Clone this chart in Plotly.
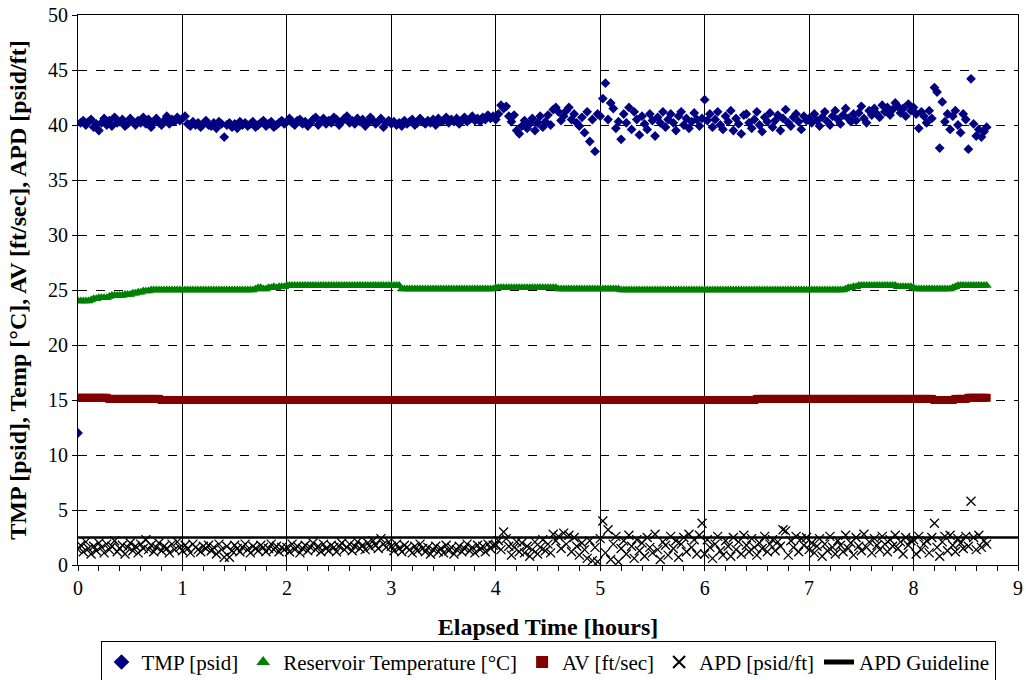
import plotly.graph_objects as go

# sampling grid (hours), 0.025 h spacing, 0 .. 8.7
hours = [round(i * 0.025, 3) for i in range(349)]

tmp_psid = [
    # 0-1 h
    12.0, 40.2, 40.4, 40.0, 40.3, 40.5, 39.8, 40.1, 39.5, 40.2, 40.6, 40.0, 40.4, 39.9, 40.7, 40.2, 40.3, 40.5, 39.9, 40.1,
    40.6, 40.3, 40.0, 40.4, 40.2, 40.7, 40.1, 40.5, 39.8, 40.3, 40.6, 40.2, 40.0, 40.4, 40.8, 40.1, 40.5, 40.3, 40.7, 40.4,
    # 1-2 h
    40.6, 40.8, 40.1, 39.9, 40.3, 40.0, 40.2, 39.8, 40.1, 40.4, 40.0, 39.9, 40.2, 39.7, 40.3, 40.1, 38.9, 40.0, 40.2, 39.8,
    40.1, 39.7, 40.3, 40.0, 40.2, 39.9, 40.1, 40.3, 39.8, 40.0, 40.2, 40.4, 39.9, 40.1, 40.3, 39.8, 40.0, 40.2, 40.4, 40.1,
    # 2-3 h
    40.3, 40.6, 40.2, 40.0, 40.4, 40.5, 40.1, 40.3, 39.9, 40.2, 40.5, 40.7, 40.0, 40.3, 40.6, 40.1, 40.4, 40.2, 40.7, 40.5,
    40.0, 40.3, 40.6, 40.8, 40.2, 40.4, 40.1, 40.6, 40.3, 40.5, 39.9, 40.2, 40.7, 40.4, 40.1, 40.3, 40.6, 39.8, 40.2, 40.4,
    # 3-4 h
    40.1, 40.3, 40.0, 40.2, 39.9, 40.4, 40.1, 40.3, 40.5, 40.0, 40.2, 40.6, 40.3, 40.1, 40.4, 40.2, 40.5, 40.0, 40.6, 40.3,
    40.4, 40.7, 40.2, 40.5, 40.3, 40.6, 40.1, 40.4, 40.7, 40.3, 40.5, 40.8, 40.4, 40.6, 40.3, 40.7, 40.5, 40.9, 40.6, 40.8,
    # 4-5 h
    40.5, 41.0, 41.8, 41.5, 41.7, 40.8, 40.3, 40.9, 39.5, 39.2, 39.9, 40.4, 39.7, 40.1, 40.6, 39.5, 40.2, 40.8, 39.8, 40.3,
    40.9, 40.0, 41.4, 41.6, 41.2, 40.4, 40.8, 41.3, 41.6, 40.5, 41.0, 40.2, 39.9, 40.7, 39.3, 41.2, 38.5, 40.5, 37.6, 41.0,
    # 5-6 h
    40.8, 42.4, 43.8, 40.5, 42.0, 41.5, 39.7, 40.3, 38.7, 41.0, 40.2, 41.6, 39.6, 41.2, 40.5, 39.1, 40.8, 40.1, 39.6, 41.0,
    40.4, 39.0, 40.7, 40.2, 41.2, 39.8, 40.5, 41.0, 40.2, 39.5, 40.8, 41.2, 40.0, 40.6, 39.7, 40.3, 41.1, 40.5, 39.9, 40.6,
    # 6-7 h
    42.3, 40.4, 41.0, 39.8, 40.5, 41.2, 40.0, 39.6, 40.8, 40.3, 41.3, 39.5, 40.6, 40.1, 39.2, 40.9, 41.0, 40.2, 39.7, 40.5,
    41.2, 40.0, 39.4, 40.7, 40.3, 41.1, 39.8, 40.4, 40.9, 39.5, 40.6, 41.4, 40.2, 39.9, 40.7, 41.0, 40.3, 39.6, 40.8, 40.4,
    # 7-8 h
    40.6, 40.2, 41.0, 40.4, 39.9, 40.7, 41.2, 40.3, 40.0, 40.8, 41.3, 40.5, 40.1, 40.9, 41.5, 40.6, 40.3, 41.0, 40.4, 41.1,
    41.7, 40.6, 40.2, 41.3, 40.9, 41.5, 41.0, 40.7, 41.8, 41.2, 41.6, 40.9, 41.4, 42.0, 41.7, 41.1, 41.5, 40.8, 41.9, 41.3,
    # 8-8.7 h
    41.6, 41.0, 39.7, 41.2, 40.8, 40.2, 41.3, 40.6, 43.4, 43.0, 37.9, 42.1, 40.3, 41.0, 39.6, 40.8, 41.3, 40.0, 39.3, 41.0,
    40.5, 37.8, 44.2, 40.1, 39.0, 39.6, 38.9, 39.4, 39.8,
]

reservoir_temp = [
    # 0-1 h
    24.0, 24.0, 24.0, 24.0, 24.0, 24.1, 24.2, 24.2, 24.3, 24.3, 24.3, 24.3, 24.4, 24.5, 24.5, 24.5, 24.5, 24.5, 24.6, 24.6,
    24.6, 24.7, 24.7, 24.8, 24.8, 24.9, 24.9, 24.9, 25.0, 25.0, 25.0, 25.0, 25.0, 25.0, 25.0, 25.0, 25.0, 25.0, 25.0, 25.0,
    # 1-2 h
    25.0, 25.0, 25.0, 25.0, 25.0, 25.0, 25.0, 25.0, 25.0, 25.0, 25.0, 25.0, 25.0, 25.0, 25.0, 25.0, 25.0, 25.0, 25.0, 25.0,
    25.0, 25.0, 25.0, 25.0, 25.0, 25.0, 25.0, 25.0, 25.1, 25.2, 25.2, 25.1, 25.1, 25.2, 25.2, 25.3, 25.2, 25.3, 25.3, 25.3,
    # 2-3 h
    25.4, 25.4, 25.4, 25.4, 25.4, 25.4, 25.4, 25.4, 25.4, 25.4, 25.4, 25.4, 25.4, 25.4, 25.4, 25.4, 25.4, 25.4, 25.4, 25.4,
    25.4, 25.4, 25.4, 25.4, 25.4, 25.4, 25.4, 25.4, 25.4, 25.4, 25.4, 25.4, 25.4, 25.4, 25.4, 25.4, 25.4, 25.4, 25.4, 25.4,
    # 3-4 h
    25.4, 25.4, 25.4, 25.4, 25.1, 25.1, 25.1, 25.1, 25.1, 25.1, 25.1, 25.1, 25.1, 25.1, 25.1, 25.1, 25.1, 25.1, 25.1, 25.1,
    25.1, 25.1, 25.1, 25.1, 25.1, 25.1, 25.1, 25.1, 25.1, 25.1, 25.1, 25.1, 25.1, 25.1, 25.1, 25.1, 25.1, 25.1, 25.1, 25.1,
    # 4-5 h
    25.2, 25.2, 25.2, 25.2, 25.2, 25.2, 25.2, 25.2, 25.2, 25.2, 25.2, 25.2, 25.2, 25.2, 25.2, 25.2, 25.2, 25.2, 25.2, 25.2,
    25.2, 25.2, 25.2, 25.2, 25.1, 25.1, 25.1, 25.1, 25.1, 25.1, 25.1, 25.1, 25.1, 25.1, 25.1, 25.1, 25.1, 25.1, 25.1, 25.1,
    # 5-6 h
    25.1, 25.1, 25.1, 25.1, 25.1, 25.1, 25.1, 25.1, 25.0, 25.0, 25.0, 25.0, 25.0, 25.0, 25.0, 25.0, 25.0, 25.0, 25.0, 25.0,
    25.0, 25.0, 25.0, 25.0, 25.0, 25.0, 25.0, 25.0, 25.0, 25.0, 25.0, 25.0, 25.0, 25.0, 25.0, 25.0, 25.0, 25.0, 25.0, 25.0,
    # 6-7 h
    25.0, 25.0, 25.0, 25.0, 25.0, 25.0, 25.0, 25.0, 25.0, 25.0, 25.0, 25.0, 25.0, 25.0, 25.0, 25.0, 25.0, 25.0, 25.0, 25.0,
    25.0, 25.0, 25.0, 25.0, 25.0, 25.0, 25.0, 25.0, 25.0, 25.0, 25.0, 25.0, 25.0, 25.0, 25.0, 25.0, 25.0, 25.0, 25.0, 25.0,
    # 7-8 h
    25.0, 25.0, 25.0, 25.0, 25.0, 25.0, 25.0, 25.0, 25.0, 25.0, 25.0, 25.0, 25.0, 25.0, 25.1, 25.2, 25.2, 25.3, 25.3, 25.4,
    25.4, 25.4, 25.4, 25.4, 25.4, 25.4, 25.4, 25.4, 25.4, 25.4, 25.4, 25.4, 25.4, 25.4, 25.3, 25.3, 25.3, 25.3, 25.3, 25.3,
    # 8-8.7 h
    25.2, 25.1, 25.1, 25.1, 25.1, 25.1, 25.1, 25.1, 25.1, 25.1, 25.1, 25.1, 25.1, 25.1, 25.1, 25.2, 25.3, 25.4, 25.4, 25.4,
    25.4, 25.4, 25.4, 25.4, 25.4, 25.4, 25.4, 25.4, 25.4,
]

av_ftsec = [
    # 0-1 h
    15.2, 15.2, 15.2, 15.2, 15.2, 15.2, 15.2, 15.2, 15.2, 15.2, 15.2, 15.2, 15.1, 15.1, 15.1, 15.1, 15.1, 15.1, 15.1, 15.1,
    15.1, 15.1, 15.1, 15.1, 15.1, 15.1, 15.1, 15.1, 15.1, 15.1, 15.1, 15.1, 15.0, 15.0, 15.0, 15.0, 15.0, 15.0, 15.0, 15.0,
    # 1-2 h
    15.0, 15.0, 15.0, 15.0, 15.0, 15.0, 15.0, 15.0, 15.0, 15.0, 15.0, 15.0, 15.0, 15.0, 15.0, 15.0, 15.0, 15.0, 15.0, 15.0,
    15.0, 15.0, 15.0, 15.0, 15.0, 15.0, 15.0, 15.0, 15.0, 15.0, 15.0, 15.0, 15.0, 15.0, 15.0, 15.0, 15.0, 15.0, 15.0, 15.0,
    # 2-3 h
    15.0, 15.0, 15.0, 15.0, 15.0, 15.0, 15.0, 15.0, 15.0, 15.0, 15.0, 15.0, 15.0, 15.0, 15.0, 15.0, 15.0, 15.0, 15.0, 15.0,
    15.0, 15.0, 15.0, 15.0, 15.0, 15.0, 15.0, 15.0, 15.0, 15.0, 15.0, 15.0, 15.0, 15.0, 15.0, 15.0, 15.0, 15.0, 15.0, 15.0,
    # 3-4 h
    15.0, 15.0, 15.0, 15.0, 15.0, 15.0, 15.0, 15.0, 15.0, 15.0, 15.0, 15.0, 15.0, 15.0, 15.0, 15.0, 15.0, 15.0, 15.0, 15.0,
    15.0, 15.0, 15.0, 15.0, 15.0, 15.0, 15.0, 15.0, 15.0, 15.0, 15.0, 15.0, 15.0, 15.0, 15.0, 15.0, 15.0, 15.0, 15.0, 15.0,
    # 4-5 h
    15.0, 15.0, 15.0, 15.0, 15.0, 15.0, 15.0, 15.0, 15.0, 15.0, 15.0, 15.0, 15.0, 15.0, 15.0, 15.0, 15.0, 15.0, 15.0, 15.0,
    15.0, 15.0, 15.0, 15.0, 15.0, 15.0, 15.0, 15.0, 15.0, 15.0, 15.0, 15.0, 15.0, 15.0, 15.0, 15.0, 15.0, 15.0, 15.0, 15.0,
    # 5-6 h
    15.0, 15.0, 15.0, 15.0, 15.0, 15.0, 15.0, 15.0, 15.0, 15.0, 15.0, 15.0, 15.0, 15.0, 15.0, 15.0, 15.0, 15.0, 15.0, 15.0,
    15.0, 15.0, 15.0, 15.0, 15.0, 15.0, 15.0, 15.0, 15.0, 15.0, 15.0, 15.0, 15.0, 15.0, 15.0, 15.0, 15.0, 15.0, 15.0, 15.0,
    # 6-7 h
    15.0, 15.0, 15.0, 15.0, 15.0, 15.0, 15.0, 15.0, 15.0, 15.0, 15.0, 15.0, 15.0, 15.0, 15.0, 15.0, 15.0, 15.0, 15.0, 15.0,
    15.1, 15.1, 15.1, 15.1, 15.1, 15.1, 15.1, 15.1, 15.1, 15.1, 15.1, 15.1, 15.1, 15.1, 15.1, 15.1, 15.1, 15.1, 15.1, 15.1,
    # 7-8 h
    15.1, 15.1, 15.1, 15.1, 15.1, 15.1, 15.1, 15.1, 15.1, 15.1, 15.1, 15.1, 15.1, 15.1, 15.1, 15.1, 15.1, 15.1, 15.1, 15.1,
    15.1, 15.1, 15.1, 15.1, 15.1, 15.1, 15.1, 15.1, 15.1, 15.1, 15.1, 15.1, 15.1, 15.1, 15.1, 15.1, 15.1, 15.1, 15.1, 15.1,
    # 8-8.7 h
    15.1, 15.1, 15.1, 15.1, 15.1, 15.1, 15.1, 15.1, 15.0, 15.0, 15.0, 15.0, 15.0, 15.0, 15.0, 15.0, 15.1, 15.1, 15.1, 15.1,
    15.1, 15.2, 15.2, 15.2, 15.2, 15.2, 15.2, 15.2, 15.2,
]

apd_psidft = [
    # 0-1 h
    1.4, 1.8, 1.2, 2.1, 1.5, 1.0, 1.7, 1.3, 2.0, 1.6, 1.1, 1.9, 1.4, 1.7, 2.2, 1.2, 1.5, 1.8, 1.0, 1.6,
    2.0, 1.3, 1.7, 1.1, 1.9, 1.5, 2.3, 1.4, 1.8, 1.2, 1.6, 2.0, 1.3, 1.7, 1.5, 1.1, 1.9, 1.4, 2.1, 1.6,
    # 1-2 h
    1.3, 1.8, 1.5, 1.1, 1.9, 1.6, 1.4, 1.2, 1.7, 1.5, 1.8, 1.3, 1.6, 1.0, 1.9, 1.4, 0.7, 1.7, 0.7, 1.3,
    1.8, 1.5, 1.2, 1.6, 1.9, 1.4, 1.1, 1.7, 1.5, 1.3, 1.8, 1.6, 1.2, 1.5, 1.9, 1.4, 1.7, 1.2, 1.6, 1.4,
    # 2-3 h
    1.6, 1.2, 1.9, 1.4, 1.7, 1.1, 1.5, 1.8, 1.3, 1.6, 2.0, 1.4, 1.7, 1.2, 1.9, 1.5, 1.3, 1.8, 1.6, 1.2,
    1.7, 2.0, 1.4, 1.6, 1.9, 1.3, 1.7, 2.1, 1.5, 1.8, 1.4, 2.0, 1.6, 2.2, 1.8, 1.5, 2.4, 1.9, 1.6, 2.1,
    # 3-4 h
    1.7, 1.3, 1.9, 1.5, 1.2, 1.8, 1.6, 1.4, 1.1, 1.7, 1.3, 1.9, 1.5, 1.2, 1.6, 1.0, 1.4, 1.7, 1.2, 1.5,
    1.1, 1.8, 1.3, 1.6, 1.0, 1.4, 1.7, 1.2, 1.5, 1.9, 1.3, 1.6, 1.1, 1.8, 1.4, 1.7, 1.2, 1.9, 1.5, 1.8,
    # 4-5 h
    1.8, 2.2, 1.4, 3.0, 2.4, 1.7, 0.9, 1.6, 2.1, 1.2, 2.0, 1.1, 1.7, 0.8, 1.4, 2.1, 1.0, 1.6, 2.3, 1.3,
    1.9, 1.1, 2.8, 2.2, 2.6, 1.5, 2.9, 1.9, 2.7, 1.2, 2.5, 1.7, 0.9, 2.0, 1.4, 0.6, 2.2, 0.4, 1.6, 0.3,
    # 5-6 h
    2.4, 4.0, 1.1, 3.2, 0.5, 1.9, 2.6, 0.3, 1.5, 2.2, 1.0, 2.7, 1.7, 0.6, 2.3, 1.3, 2.0, 0.8, 2.5, 1.6,
    1.1, 2.8, 1.4, 0.5, 2.1, 1.8, 0.9, 2.6, 1.5, 2.2, 0.7, 1.9, 2.5, 1.2, 2.8, 1.6, 2.3, 1.0, 2.7, 3.8,
    # 6-7 h
    1.0, 2.3, 1.6, 0.6, 1.9, 2.6, 1.3, 0.9, 2.2, 1.7, 0.8, 2.5, 1.4, 2.1, 1.0, 2.7, 1.8, 1.2, 2.4, 1.6,
    0.9, 2.0, 1.5, 2.6, 1.2, 1.9, 2.3, 1.3, 2.1, 1.7, 3.2, 3.1, 0.9, 2.2, 1.6, 2.6, 1.2, 2.4, 1.8, 2.5,
    # 7-8 h
    1.4, 2.0, 1.1, 1.7, 2.4, 0.8, 1.9, 1.3, 2.6, 1.6, 1.0, 2.2, 1.8, 1.2, 2.7, 1.5, 2.0, 0.9, 2.5, 1.7,
    1.3, 2.8, 1.6, 2.1, 1.1, 2.4, 1.8, 1.4, 2.6, 1.9, 1.2, 2.3, 1.7, 2.7, 1.5, 2.1, 1.0, 2.5, 1.8, 2.2,
    # 8-8.7 h
    2.3, 1.0, 2.6, 1.4, 1.9, 2.2, 1.1, 2.5, 3.8, 1.6, 0.8, 2.1, 2.6, 1.3, 2.7, 1.8, 1.2, 2.4, 2.0, 1.5,
    2.6, 1.7, 5.8, 2.5, 1.4, 2.7, 1.6, 2.2, 1.9,
]

guideline_x = [0, 9]
guideline_y = [2.5, 2.5]

FONT = "Liberation Serif"

fig = go.Figure()
fig.add_trace(go.Scatter(
    x=hours, y=tmp_psid, mode="markers", name="TMP [psid]",
    marker=dict(symbol="diamond", size=7.5, color="#000080", line=dict(width=0)),
))
fig.add_trace(go.Scatter(
    x=hours, y=reservoir_temp, mode="markers", name="Reservoir Temperature [°C]",
    marker=dict(symbol="triangle-up", size=9, color="#008000", line=dict(width=0)),
))
fig.add_trace(go.Scatter(
    x=hours, y=av_ftsec, mode="markers", name="AV [ft/sec]",
    marker=dict(symbol="square", size=8, color="#800000", line=dict(width=0)),
))
fig.add_trace(go.Scatter(
    x=hours, y=apd_psidft, mode="markers", name="APD [psid/ft]",
    marker=dict(symbol="x-thin", size=9, color="black", line=dict(width=1.3, color="black")),
))
fig.add_trace(go.Scatter(
    x=guideline_x, y=guideline_y, mode="lines", name="APD Guideline",
    line=dict(color="black", width=2.5),
))

fig.update_layout(
    width=1026, height=680,
    margin=dict(l=78, r=8, t=15, b=115, autoexpand=False),
    paper_bgcolor="white", plot_bgcolor="white",
    font=dict(family=FONT, size=20, color="black"),
    legend=dict(
        orientation="h", x=0.5, xanchor="center", y=-0.138, yanchor="top",
        bordercolor="black", borderwidth=1, font=dict(size=21, family=FONT),
        itemsizing="constant", tracegroupgap=0,
    ),
)

fig.update_xaxes(
    range=[0, 9], dtick=1, tick0=0, automargin=False,
    showline=True, linecolor="black", linewidth=1, mirror=True,
    showgrid=True, gridcolor="black", gridwidth=1,
    ticks="outside", ticklen=5, tickcolor="black",
    minor=dict(dtick=0.2, ticks="outside", ticklen=5, tickcolor="black", showgrid=False),
    zeroline=False,
    title=dict(text="<b>Elapsed Time [hours]</b>", font=dict(size=24, family=FONT), standoff=20),
    tickfont=dict(size=20, family=FONT),
)
fig.update_yaxes(
    range=[0, 50], dtick=5, tick0=0, automargin=False,
    showline=True, linecolor="black", linewidth=1, mirror=True,
    showgrid=True, gridcolor="black", gridwidth=1, griddash="dash",
    ticks="outside", ticklen=5, tickcolor="black",
    zeroline=False,
    title=dict(text="<b>TMP [psid], Temp [°C], AV [ft/sec], APD [psid/ft]</b>", font=dict(size=24, family=FONT), standoff=14),
    tickfont=dict(size=20, family=FONT),
)

fig.write_html("out.html")
